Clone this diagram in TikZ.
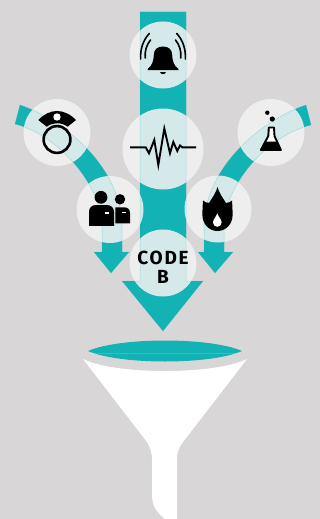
\documentclass[tikz,border=0pt]{standalone}
\usepackage{fontspec}
\newfontfamily\codefont[LetterSpace=9]{Fira Sans}
\definecolor{paper}{HTML}{D8D6D7}
\definecolor{flow}{HTML}{13B2B5}
\newcommand{\mainflow}{(140,12) -- (186,12) -- (186,281) -- (203,281) -- (163,331) -- (122,281) -- (140,281) -- cycle}
\newcommand{\leftflow}{(20,105) .. controls (60,118) and (122,165) .. (122,227) -- (122,252) -- (129,252) -- (111,273) -- (94,252) -- (102,252) -- (102,227) .. controls (102,185) and (58,135) .. (15,124) -- cycle}
\newcommand{\rightflow}{(306,105) .. controls (266,118) and (204,165) .. (204,227) -- (204,252) -- (198,252) -- (215,273) -- (233,252) -- (224,252) -- (224,227) .. controls (224,185) and (268,135) .. (311,125) -- cycle}

\begin{document}
\begin{tikzpicture}[x=1pt,y=-1pt]
    \tikzset{hub/.style = {shape=circle, fill=white!95!black, fill opacity=0.87, minimum size=67pt, inner sep=0pt}}
    \tikzset{band/.style = {fill=flow, draw=none}}
    \tikzset{rim/.style = {draw=flow, draw opacity=0.3, line width=0.5pt}}
    \tikzset{icon/.style = {fill=black, draw=none}}
    \tikzset{wire/.style = {draw=black, line width=1.6pt, line cap=round}}

    \fill[paper] (0,0) rectangle (320,519);
    \useasboundingbox (0,0) rectangle (320,519);

    % bands
    \path[band] \mainflow;
    \path[band] \leftflow;
    \path[band] \rightflow;

    % circles
    \node[hub] (bell) at (163,55) {};
    \node[hub, minimum size=81pt] (pulse) at (163,149) {};
    \node[hub] (nurse) at (57,132.5) {};
    \node[hub] (flask) at (271,132.5) {};
    \node[hub] (people) at (110,209.5) {};
    \node[hub] (flame) at (218,209) {};
    \node[hub] (code) at (163,263) {};

    % band edges over the circles
    \path[rim] \mainflow;
    \path[rim] \leftflow;
    \path[rim] \rightflow;

    % bell
    \path[icon] (147.5,70) -- (148,68.5) .. controls (151.5,66.5) and (153.8,61) .. (153.8,55) .. controls (153.8,49.5) and (157.5,46.5) .. (163,46.5) .. controls (168.5,46.5) and (172.2,49.5) .. (172.2,55) .. controls (172.2,61) and (174.5,66.5) .. (178,68.5) -- (178.5,70) -- cycle;
    \path[icon] (160,72) -- (166,72) .. controls (165.5,74.8) and (160.5,74.8) .. (160,72) -- cycle;
    \draw[wire] (149.3,33.5) .. controls (143,40) and (140,50) .. (140.7,59);
    \draw[wire] (150.5,40) .. controls (146.5,45) and (144.5,51) .. (145.3,58);
    \draw[wire] (176.7,33.5) .. controls (183,40) and (186,50) .. (185.3,59);
    \draw[wire] (175.5,40) .. controls (179.5,45) and (181.5,51) .. (180.7,58);

    % pulse
    \draw[draw=black, line width=1.9pt, miter limit=8] (130,147.3) -- (145.7,147.3) -- (149,153.3) -- (154.3,140) -- (158.3,165) -- (164.3,128.5) -- (170,153.3) -- (173.3,142) -- (177.3,151) -- (180,145.5) -- (182.3,147.3) -- (196,147.3);

    % nurse
    \path[icon] (38.3,120) .. controls (50,108) and (64,108) .. (76,120) -- (67.7,126.7) .. controls (61,122) and (53,122) .. (46.7,126.7) -- cycle;
    \fill[white] (57,117) circle [radius=3.7];
    \draw[draw=black, line width=2.6pt] (57,139.5) circle [radius=13.4];

    % flask
    \fill[black] (267.3,112.7) circle [radius=2.2];
    \fill[black] (272.3,119) circle [radius=2.6];
    \path[fill=white, draw=black, line width=1.9pt, line join=round] (268.8,127.5) -- (274,127.5) -- (274.5,136) -- (280.8,149.8) -- (261,149.8) -- (268.3,136) -- cycle;
    \path[icon] (264.5,141.5) -- (277.5,141.5) -- (281.7,150.7) -- (260,150.7) -- cycle;

    % people
    \fill[black] (101,197.3) circle [radius=6.4];
    \fill[black] (120,199.3) circle [radius=5.2];
    \path[icon] (115.3,207.3) -- (124,207.3) .. controls (127.8,207.3) and (130,209.5) .. (130,213) -- (130,223.3) -- (115.3,223.3) -- cycle;
    \path[icon] (89,225.8) -- (89,212) .. controls (89,207.5) and (92,205) .. (96,205) -- (106.5,205) .. controls (111,205) and (114,207.5) .. (114,212) -- (114,225.8) -- cycle;
    \fill[white] (105,212) rectangle (109,214);
    \fill[white] (122.3,211.7) rectangle (126,213.3);

    % flame
    \path[icon] (217.5,187) .. controls (219,193) and (223,198) .. (226,203) .. controls (228,203) and (230.5,202) .. (232,200.5) .. controls (232.3,205) and (232.6,210) .. (232.6,215) .. controls (232.6,224) and (226,231) .. (217.5,231) .. controls (209,231) and (202.4,224) .. (202.4,215) .. controls (202.4,210) and (202.7,205) .. (203,200.5) .. controls (204.5,202) and (207,203) .. (209,203) .. controls (212,198) and (216,193) .. (217.5,187) -- cycle;
    \fill[white] (217.3,213.3) .. controls (218.5,217) and (221.6,219.5) .. (221.6,222.4) .. controls (221.6,225) and (219.6,226.8) .. (217.3,226.8) .. controls (215,226.8) and (213,225) .. (213,222.4) .. controls (213,219.5) and (216.1,217) .. (217.3,213.3) -- cycle;

    % label
    \node[font=\codefont\bfseries\fontsize{19}{19}\selectfont, align=center, text=black, inner sep=0pt] (codetext) at (163,267) {CODE\\B};

    % funnel
    \path[fill=white] (83,359) .. controls (115,375) and (215,375) .. (247,359) -- (183,442) .. controls (179,447) and (177,452) .. (177,460) -- (177,519) -- (165,519) .. controls (156,512) and (152,505) .. (152,495) -- (152,460) .. controls (152,452) and (150,447) .. (147,442) -- cycle;
    \path[band] (88,351) .. controls (120,337) and (210,337) .. (242,351) .. controls (210,365) and (120,365) .. (88,351) -- cycle;
    \draw[draw=white, draw opacity=0.15, line width=0.5pt] (90,353.5) -- (240,353.5);
\end{tikzpicture}
\end{document}
